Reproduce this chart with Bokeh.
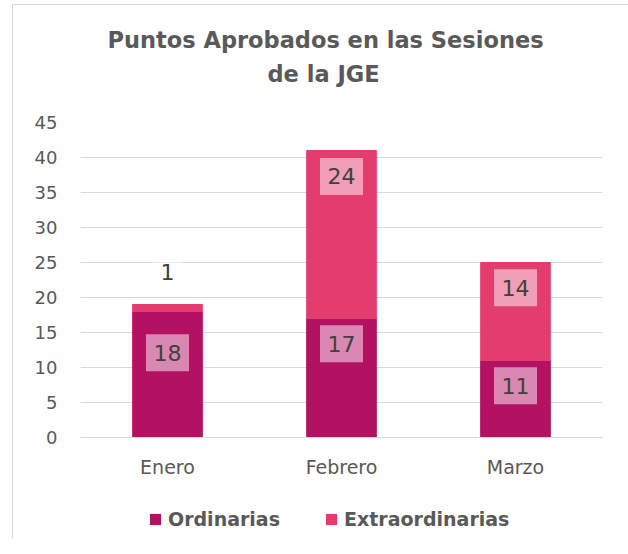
from bokeh.plotting import figure
from bokeh.layouts import column
from bokeh.models import (FactorRange, Range1d, FixedTicker, Legend, LegendItem,
                          Title, ColumnDataSource)
from bokeh.core.properties import value
from bokeh.embed import file_html
from bokeh.resources import INLINE

# ---- data ----
months = ["Enero", "Febrero", "Marzo"]
ordinarias = [18, 17, 11]
extraordinarias = [1, 24, 14]
series_names = ["Ordinarias", "Extraordinarias"]
y_ticks = [0, 5, 10, 15, 20, 25, 30, 35, 40, 45]
title_lines = ["Puntos Aprobados en las Sesiones", "de la JGE"]

# label anchor heights (axis units) as placed in the original
ord_label_y = [12.1, 13.4, 7.4]
ext_label_y = [23.6, 37.3, 21.4]

# ---- style ----
FONT = "DejaVu Sans"
TXT = "#595959"
GRID = "#d9d9d9"
COLORS = ["#B31162", "#E33D6F"]

source = ColumnDataSource(dict(month=months, Ordinarias=ordinarias,
                               Extraordinarias=extraordinarias))

p = figure(width=615, height=495, x_range=FactorRange(*months),
           y_range=Range1d(0, 45), output_backend="svg", toolbar_location=None,
           min_border_left=67, min_border_right=26, min_border_top=117,
           min_border_bottom=63)
p.outline_line_color = None
p.background_fill_color = "white"
p.border_fill_color = "white"

renderers = p.vbar_stack(series_names, x="month", width=0.4, color=COLORS,
                         line_color=COLORS, source=source)

# data labels
lab_x = months + months
lab_y = ord_label_y + ext_label_y
lab_t = [str(v) for v in ordinarias + extraordinarias]
lab_w = [30 if len(t) == 1 else 43 for t in lab_t]
lsrc = ColumnDataSource(dict(x=lab_x, y=lab_y, t=lab_t, w=lab_w))
p.rect(x="x", y="y", width="w", height=37, width_units="screen",
       height_units="screen", fill_color="white", fill_alpha=0.5,
       line_color=None, source=lsrc)
p.text(x="x", y="y", text="t", text_align="center", text_baseline="middle",
       text_font=value(FONT), text_font_size="22px", text_color="#404040",
       source=lsrc)

# axes
p.yaxis.ticker = FixedTicker(ticks=y_ticks)
p.yaxis.axis_line_color = None
p.yaxis.major_tick_line_color = None
p.yaxis.minor_tick_line_color = None
p.yaxis.major_label_text_font = FONT
p.yaxis.major_label_text_font_size = "18px"
p.yaxis.major_label_text_color = TXT
p.yaxis.major_label_standoff = 17

p.xaxis.axis_line_color = GRID
p.xaxis.major_tick_line_color = None
p.xaxis.minor_tick_line_color = None
p.xaxis.major_label_text_font = FONT
p.xaxis.major_label_text_font_size = "19px"
p.xaxis.major_label_text_color = TXT
p.xaxis.major_label_standoff = 12

p.xgrid.grid_line_color = None
p.ygrid.grid_line_color = GRID
p.ygrid.ticker = FixedTicker(ticks=y_ticks)

# title: spacer nearest the frame, then the two lines (bottom line first)
p.add_layout(Title(text=" ", text_font_size="1px", standoff=30), "above")
title_offsets = [187, 27]
for line, off in zip(reversed(title_lines), title_offsets):
    t = Title(text=line, align="left", offset=off, text_font=FONT,
              text_font_size="22.5px", text_font_style="bold",
              text_color=TXT, standoff=6)
    p.add_layout(t, "above")

# legend strip below the chart (key glyphs are zero-size, so nothing is drawn)
lg = figure(width=615, height=38, x_range=(0, 1), y_range=(0, 1),
            output_backend="svg", toolbar_location=None,
            x_axis_location=None, y_axis_location=None, min_border=0,
            min_border_left=67, min_border_right=26)
lg.outline_line_color = None
lg.grid.grid_line_color = None
lg.border_fill_color = "white"
keys = [lg.vbar(x=[0.5], top=[0], bottom=[0], width=0, fill_color=c,
                line_color=None) for c in COLORS]
legend = Legend(items=[LegendItem(label=n, renderers=[r])
                       for n, r in zip(series_names, keys)],
                orientation="horizontal", location=(68, 8),
                label_text_font=FONT, label_text_font_size="19px",
                label_text_font_style="bold", label_text_color=TXT,
                glyph_width=14, glyph_height=14, spacing=44,
                label_standoff=6, border_line_color=None,
                background_fill_alpha=0, margin=0, padding=0)
lg.add_layout(legend)

layout = column(p, lg, spacing=0,
                styles={"margin-left": "12px", "margin-top": "4px",
                        "border-left": "1px solid #d9d9d9",
                        "border-top": "1px solid #d9d9d9"})
open("out.html", "w").write(file_html(layout, INLINE))
